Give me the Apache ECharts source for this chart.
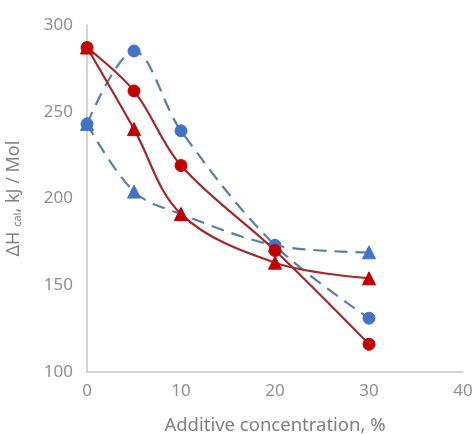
<!DOCTYPE html>
<html><head><meta charset="utf-8">
<script src="https://cdn.jsdelivr.net/npm/echarts@6/dist/echarts.min.js"></script>
<style>html,body{margin:0;padding:0;background:#fff}#c{width:475px;height:434px}</style>
</head><body><div id="c"></div>
<script>
const xValues = [0, 5, 10, 20, 30];
const redCircle = [287, 262, 219, 170, 116];
const redTriangle = [287, 240, 191, 163, 154];
const blueCircle = [243, 285, 239, 173, 131];
const blueTriangle = [243, 204, 191, 173, 169];
const xTicks = [0, 10, 20, 30, 40];
const yTicks = [100, 150, 200, 250, 300];

function pts(ys){ return xValues.map((x,i)=>[x, ys[i]]); }
function ser(ys, symbol, mColor, lColor, dashed){
  return {
    type:'line', data: pts(ys), smooth: 0.35, symbol: symbol,
    symbolSize: symbol==='triangle'?13:12,
    itemStyle:{color:mColor, borderColor:mColor},
    lineStyle:{color:lColor, width:2.2, type: dashed?[13,8]:'solid'},
    z: dashed?2:3
  };
}
const FONT = 'Noto Sans';
const chart = echarts.init(document.getElementById('c'));
chart.setOption({
  animation:false,
  grid:{left:87, right:12, top:25, bottom:62, containLabel:false, outerBoundsMode:'none'},
  xAxis:{type:'value', min:0, max:40, interval:10,
    axisLine:{show:true, lineStyle:{color:'#c4c4c4', width:1.5}},
    axisTick:{show:false}, splitLine:{show:false},
    axisLabel:{color:'#8f8f8f', fontSize:17, fontFamily:FONT, margin:11},
    name:'Additive concentration, %', nameLocation:'middle', nameGap:44,
    nameTextStyle:{color:'#808080', fontSize:18.5, fontFamily:FONT}},
  yAxis:{type:'value', min:100, max:300, interval:50,
    axisLine:{show:true, lineStyle:{color:'#c4c4c4', width:1.5}},
    axisTick:{show:false}, splitLine:{show:false},
    axisLabel:{color:'#8f8f8f', fontSize:17, fontFamily:FONT, margin:14},
    name:'ΔH {s|cal}, kJ / Mol', nameLocation:'middle', nameGap:64, nameRotate:90,
    nameTextStyle:{color:'#808080', fontSize:18, fontFamily:FONT,
      rich:{s:{fontSize:11, color:'#808080', fontFamily:FONT, padding:[7,0,0,0]}}}},
  series:[
    ser(blueCircle,'circle','#4472C4','#5B7DA8',true),
    ser(blueTriangle,'triangle','#4472C4','#5B7DA8',true),
    ser(redCircle,'circle','#C00000','#A3282C',false),
    ser(redTriangle,'triangle','#C00000','#A3282C',false)
  ]
});
</script></body></html>
